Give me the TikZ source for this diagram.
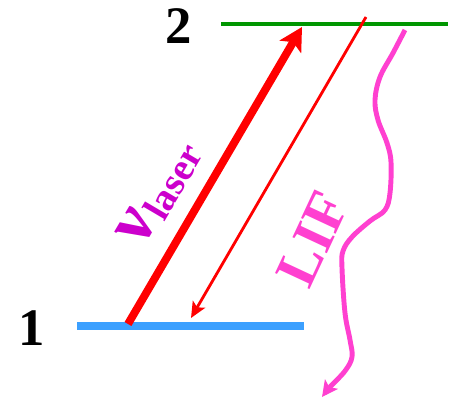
\documentclass[tikz,border=0pt]{standalone}
\usepackage{fontspec}
\setmainfont{Liberation Serif}
\usetikzlibrary{arrows.meta}
\definecolor{levelgreen}{RGB}{0,150,0}
\definecolor{levelblue}{RGB}{60,160,255}
\definecolor{lifpink}{RGB}{255,64,208}
\definecolor{laserpurple}{RGB}{204,0,204}
\tikzset{
  levellabel/.style={font=\bfseries\fontsize{30}{30}\selectfont, inner sep=0pt},
  pump/.style={red, line width=4.5pt, -{Stealth[length=13pt, width=14pt, inset=3pt]}},
  decay/.style={red, line width=1.6pt, -{Stealth[length=9pt, width=8pt, inset=2pt]}},
  fluo/.style={lifpink, line width=2.8pt, line join=round, -{Stealth[length=9pt, width=9pt, inset=2pt]}}
}

\begin{document}
\begin{tikzpicture}[x=0.02cm, y=-0.02cm]
\useasboundingbox (0,0) rectangle (457,401);

% Niveau 2 oben
\coordinate (n2l) at (221,24);
\coordinate (n2r) at (448,24);
\draw[levelgreen, line width=2.8pt] (n2l) -- (n2r);
\node[levellabel] (lab2) at (179,26) {2};

% Niveau 1 unten
\coordinate (n1l) at (77,326);
\coordinate (n1r) at (304,326);
\draw[levelblue, line width=4.5pt] (n1l) -- (n1r);
\node[levellabel] (lab1) at (32,328) {1};

% Anregung durch den Laser
\coordinate (pumpa) at (128,324);
\coordinate (pumpb) at (302,27);
\draw[pump] (pumpa) -- (pumpb);
\node[laserpurple, rotate=59.5, inner sep=0pt] (nulaser) at (160,193)
  {\bfseries\fontsize{40}{40}\selectfont ν\hspace{1pt}\raisebox{-3pt}{\fontsize{22}{22}\selectfont laser}};

% Rueckkehr
\coordinate (decaya) at (366,17);
\coordinate (decayb) at (191,318);
\draw[decay] (decaya) -- (decayb);

% Fluoreszenz
\draw[fluo] plot[smooth, tension=0.6] coordinates {(405,30) (393,53) (380,77) (375,100) (378,120)
  (387,143) (391,162) (390,193) (385,210) (370,221) (352,237) (343,251) (342,268)
  (345,313) (350,340) (352,357) (345,371) (330,387) (322,397)};
\node[lifpink, rotate=65, inner sep=0pt, font=\bfseries\fontsize{33}{33}\selectfont] (lif) at (313,239) {LIF};

\end{tikzpicture}
\end{document}
